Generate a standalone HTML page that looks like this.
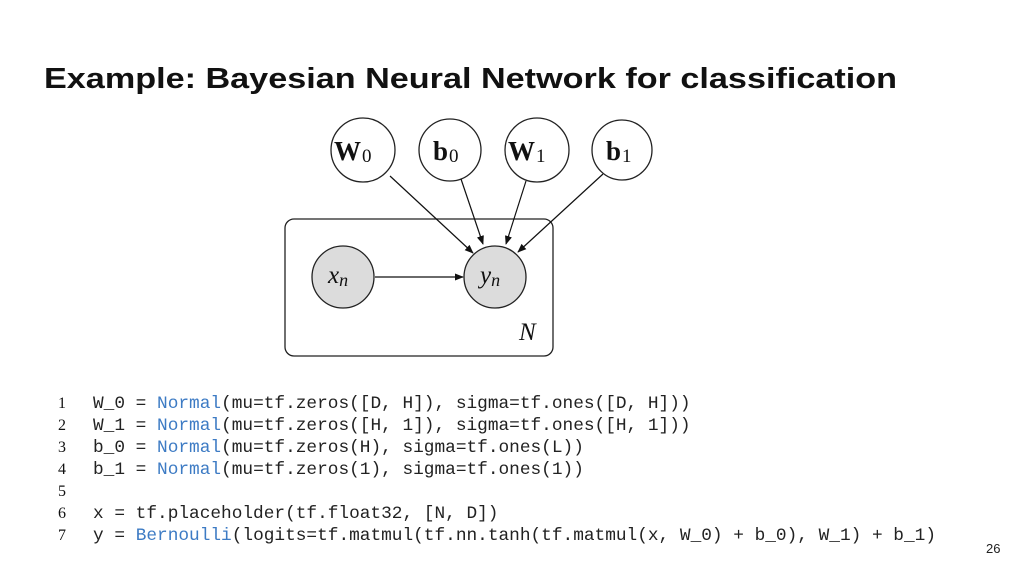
<!DOCTYPE html>
<html><head><meta charset="utf-8"><style>
html,body{margin:0;padding:0;background:#fff;}
svg{display:block;}
.c{font-family:"Liberation Mono",monospace;font-size:17.8px;fill:#222;}
.n{font-family:"Liberation Serif",serif;font-size:16px;fill:#111;}
.b{fill:#3d7bc4;}
</style></head><body>
<svg width="1024" height="576" viewBox="0 0 1024 576" xmlns="http://www.w3.org/2000/svg">
<defs><marker id="a" viewBox="0 0 10 10" refX="9" refY="5" markerWidth="9" markerHeight="9" markerUnits="userSpaceOnUse" orient="auto"><path d="M0,1 L10,5 L0,9 Z" fill="#111"/></marker></defs>
<text x="44" y="88" font-family="Liberation Sans, sans-serif" font-weight="bold" font-size="29" fill="#111" textLength="853" lengthAdjust="spacingAndGlyphs">Example: Bayesian Neural Network for classification</text>
<rect x="285" y="219" width="268" height="137" rx="9" fill="none" stroke="#222" stroke-width="1.3"/>
<g stroke="#222" stroke-width="1.3" fill="#fff">
<circle cx="363" cy="150" r="32"/><circle cx="450" cy="150" r="31"/><circle cx="537" cy="150" r="32"/><circle cx="622" cy="150" r="30"/>
<circle cx="343" cy="277" r="31" fill="#dcdcdc"/><circle cx="495" cy="277" r="31" fill="#dcdcdc"/>
</g>
<g stroke="#111" stroke-width="1.2" marker-end="url(#a)">
<line x1="390" y1="176" x2="473" y2="253"/><line x1="461" y1="179" x2="483" y2="244"/>
<line x1="526" y1="181" x2="506" y2="244"/><line x1="603" y1="174" x2="518" y2="252"/>
<line x1="375" y1="277" x2="463" y2="277"/>
</g>
<g font-family="Liberation Serif, serif" fill="#111">
<text x="334" y="160" font-size="27" font-weight="bold">W<tspan font-weight="normal" font-size="19" dx="1" dy="2">0</tspan></text>
<text x="433" y="160" font-size="27" font-weight="bold">b<tspan font-weight="normal" font-size="19" dx="1" dy="2">0</tspan></text>
<text x="508" y="160" font-size="27" font-weight="bold">W<tspan font-weight="normal" font-size="19" dx="1" dy="2">1</tspan></text>
<text x="606" y="160" font-size="27" font-weight="bold">b<tspan font-weight="normal" font-size="19" dx="1" dy="2">1</tspan></text>
<text x="328" y="283" font-size="25" font-style="italic">x<tspan font-size="18" dy="3">n</tspan></text>
<text x="480" y="283" font-size="25" font-style="italic">y<tspan font-size="18" dy="3">n</tspan></text>
<text x="519" y="340" font-size="25" font-style="italic">N</text>
</g>
<g class="n"><text x="58" y="408">1</text><text x="58" y="430">2</text><text x="58" y="452">3</text><text x="58" y="474">4</text><text x="58" y="496">5</text><text x="58" y="518">6</text><text x="58" y="540">7</text></g>
<g class="c" xml:space="preserve">
<text x="93" y="408">W_0 = <tspan class="b">Normal</tspan>(mu=tf.zeros([D, H]), sigma=tf.ones([D, H]))</text>
<text x="93" y="430">W_1 = <tspan class="b">Normal</tspan>(mu=tf.zeros([H, 1]), sigma=tf.ones([H, 1]))</text>
<text x="93" y="452">b_0 = <tspan class="b">Normal</tspan>(mu=tf.zeros(H), sigma=tf.ones(L))</text>
<text x="93" y="474">b_1 = <tspan class="b">Normal</tspan>(mu=tf.zeros(1), sigma=tf.ones(1))</text>
<text x="93" y="518">x = tf.placeholder(tf.float32, [N, D])</text>
<text x="93" y="540">y = <tspan class="b">Bernoulli</tspan>(logits=tf.matmul(tf.nn.tanh(tf.matmul(x, W_0) + b_0), W_1) + b_1)</text>
</g>
<text x="986" y="553" font-family="Liberation Sans, sans-serif" font-size="13" fill="#222">26</text>
</svg>
</body></html>
